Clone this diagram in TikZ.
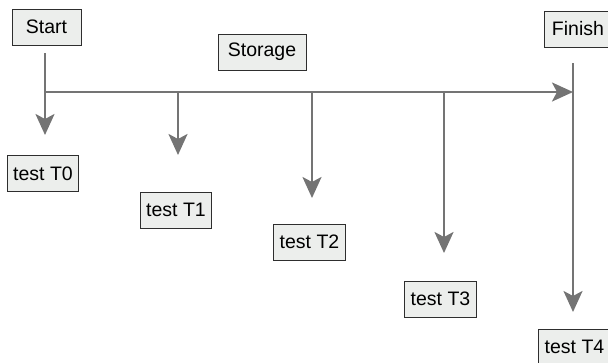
\documentclass[tikz,border=0pt]{standalone}
\usepackage{fontspec}
\setmainfont{Liberation Sans}
\usetikzlibrary{arrows.meta}
\definecolor{boxfill}{HTML}{ECEEEC}
\definecolor{boxline}{HTML}{2E2E2E}
\definecolor{flowgray}{HTML}{747474}
\begin{document}
\begin{tikzpicture}[x=1pt,y=-1pt,%
% common options for the boxes:
stage/.style = {rectangle, draw=boxline, line width=0.9pt, fill=boxfill,
            minimum width=69pt, minimum height=36pt, inner xsep=6pt,
            font=\fontsize{19.5}{22}\selectfont},
% common options for the arrows:
flow/.style = {draw=flowgray, line width=2.5pt,
            -{Stealth[length=21pt, width=19pt, inset=5pt]}}]
\useasboundingbox (0,0) rectangle (608,362);
\node[stage] (Start) at (46.5,27) {Start};
\node[stage, minimum width=88pt] (Storage) at (262,52) {Storage};
\node[stage, minimum width=68pt] (Finish) at (578,29) {Finish};
\node[stage, minimum width=71pt] (T0) at (43,173.5) {test T0};
\node[stage, minimum width=71pt] (T1) at (176,210) {test T1};
\node[stage, minimum width=71pt] (T2) at (309.5,242) {test T2};
\node[stage, minimum width=71pt] (T3) at (440.5,299) {test T3};
\node[stage, minimum width=71pt] (T4) at (574.5,347) {test T4};
% branch points on the storage line
\coordinate (j0) at (45,92);
\coordinate (j1) at (178,92);
\coordinate (j2) at (312,92);
\coordinate (j3) at (444,92);
\coordinate (j4) at (573,92);
% arrow tips
\coordinate (e0) at (45,135);
\coordinate (e1) at (178,155);
\coordinate (e2) at (312,198);
\coordinate (e3) at (444,253);
\coordinate (e4) at (573,312);
\draw[flow] (Start.south -| j0) ++(0,8) -- (e0);
\draw[flow] (Finish.south -| j4) ++(0,16) -- (e4);
\draw[flow] (j0) -- (j4);
\draw[flow] (j1) -- (e1);
\draw[flow] (j2) -- (e2);
\draw[flow] (j3) -- (e3);
\end{tikzpicture}
\end{document}
